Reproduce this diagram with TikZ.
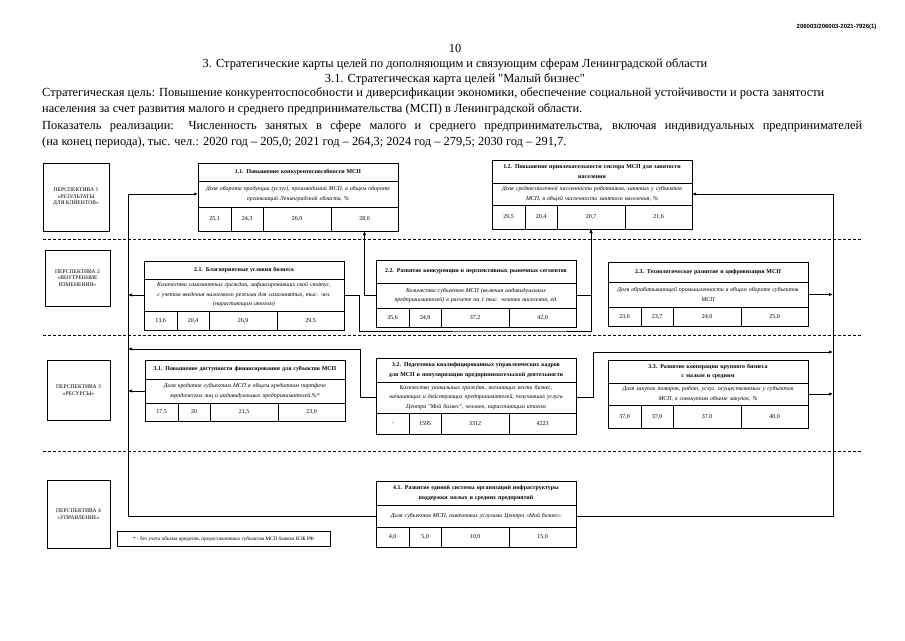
\documentclass[tikz,border=0pt]{standalone}
\usepackage{fontspec}
\setmainfont{Liberation Serif}[Ligatures=TeXOff]
\setsansfont{Liberation Sans}
\usetikzlibrary{arrows.meta, positioning, calc}

\tikzset{
  hdr/.style={font=\fontsize{12.4}{14}\selectfont, inner sep=0pt},
  persp/.style={draw, line width=0.8pt, align=center, inner sep=1pt, font=\fontsize{5.6}{6.6}\selectfont},
  titlebox/.style={draw, line width=0.8pt, outer sep=0pt, anchor=north west, minimum width=200pt,
    text width=196pt, align=center, inner sep=0pt, font=\fontsize{5.9}{9.5}\selectfont\bfseries},
  descbox/.style={titlebox, font=\fontsize{5.9}{9.5}\selectfont\itshape},
  valbox/.style={draw, line width=0.8pt, outer sep=0pt, anchor=north west, inner sep=0pt,
    font=\fontsize{6}{7}\selectfont},
  sep/.style={line width=0.8pt, dash pattern=on 3pt off 2pt},
  link/.style={line width=0.7pt, -{Latex[length=4pt, width=3.2pt]}},
}

% one row of four target values under a goal
\newcommand{\valrow}[6]{%
  \node[valbox, minimum width=33pt, minimum height=#2pt] (#1v1) at (#1d.south west) {#3};
  \node[valbox, minimum width=32pt, minimum height=#2pt] (#1v2) at (#1v1.north east) {#4};
  \node[valbox, minimum width=68pt, minimum height=#2pt] (#1v3) at (#1v2.north east) {#5};
  \node[valbox, minimum width=67pt, minimum height=#2pt] (#1v4) at (#1v3.north east) {#6};
}
% goal: name, x, y, heights of title/description/values, title, description, values
\newcommand{\goalbox}[9]{%
  \node[titlebox, minimum height=#4pt] (#1t) at (#2,#3) {#7};
  \node[descbox, minimum height=#5pt] (#1d) at (#1t.south west) {#8};
  \valrow{#1}{#6}#9
}

\begin{document}
\begin{tikzpicture}[x=1pt, y=-1pt]
  \useasboundingbox (0,0) rectangle (905,640);

  \node[font=\sffamily\bfseries\fontsize{6}{7}\selectfont, anchor=east] (docid) at (880,27) {206003/206003-2021-7926(1)};
  \node[hdr] (pgno) at (455,48) {10};
  \node[hdr] (ttl1) at (455,64) {3. Стратегические карты целей по дополняющим и связующим сферам Ленинградской области};
  \node[hdr] (ttl2) at (455,79) {3.1. Стратегическая карта целей "Малый бизнес"};
  \node[hdr, anchor=west] (goal1) at (42,93) {Стратегическая цель: Повышение конкурентоспособности и диверсификации экономики, обеспечение социальной устойчивости и роста занятости};
  \node[hdr, anchor=west] (goal2) at (42,109) {населения за счет развития малого и среднего предпринимательства (МСП) в Ленинградской области.};
  \node[hdr, anchor=west] (ind1) at (42,127) {\makebox[820pt][s]{Показатель реализации: Численность занятых в сфере малого и среднего предпринимательства, включая индивидуальных предпринимателей}};
  \node[hdr, anchor=west] (ind2) at (42,143) {(на конец периода), тыс. чел.: 2020 год – 205,0; 2021 год – 264,3; 2024 год – 279,5; 2030 год – 291,7.};

  \foreach \y in {239,335,451}
    \draw[sep] (43,\y) -- (862,\y);

  \node[persp, minimum width=66pt, minimum height=68pt] (p1) at (76,197) {ПЕРСПЕКТИВА 1\\«РЕЗУЛЬТАТЫ\\ДЛЯ КЛИЕНТОВ»};
  \node[persp, minimum width=65pt, minimum height=56pt] (p2) at (77.5,278) {ПЕРСПЕКТИВА 2\\«ВНУТРЕННИЕ\\ИЗМЕНЕНИЯ»};
  \node[persp, minimum width=63pt, minimum height=60pt] (p3) at (78.5,390) {ПЕРСПЕКТИВА 3\\«РЕСУРСЫ»};
  \node[persp, minimum width=63pt, minimum height=68pt] (p4) at (78.5,514) {ПЕРСПЕКТИВА 4\\«УПРАВЛЕНИЕ»};

  \goalbox{g11}{198}{163}{18}{26}{24}{1.1. Повышение конкурентоспособности МСП}
    {Доля оборота продукции (услуг), производимой МСП, в общем обороте\\организаций Ленинградской области, \%}
    {{25,1}{24,3}{26,9}{28,0}}
  \goalbox{g12}{492}{160}{23}{22}{24}{1.2. Повышение привлекательности сектора МСП для занятости\\населения}
    {Доля среднесписочной численности работников, занятых у субъектов\\МСП, в общей численности занятого населения, \%}
    {{29,5}{20,4}{20,7}{21,6}}
  \goalbox{g21}{144}{261}{18}{32}{19}{2.1. Благоприятные условия бизнеса}
    {Количество самозанятых граждан, зафиксировавших свой статус,\\с учетом введения налогового режима для самозанятых, тыс. чел.\\(нарастающим итогом)}
    {{13,6}{20,4}{26,9}{29,5}}
  \goalbox{g22}{376}{260}{23}{25}{19}{2.2. Развитие конкуренции и перспективных рыночных сегментов}
    {Количество субъектов МСП (включая индивидуальных\\предпринимателей) в расчете на 1 тыс. человек населения, ед.}
    {{35,6}{34,9}{37,2}{42,0}}
  \goalbox{g23}{608}{262}{20}{25}{19}{2.3. Технологическое развитие и цифровизация МСП}
    {Доля обрабатывающей промышленности в общем обороте субъектов\\МСП}
    {{23,6}{23,7}{24,0}{25,0}}
  \goalbox{g31}{145}{360}{19}{24}{18}{3.1. Повышение доступности финансирования для субъектов МСП}
    {Доля кредитов субъектам МСП в общем кредитном портфеле\\юридических лиц и индивидуальных предпринимателей,\%*}
    {{17,5}{20}{21,5}{23,0}}
  \goalbox{g32}{376}{358}{24}{31}{21}{3.2. Подготовка квалифицированных управленческих кадров\\для МСП и популяризация предпринимательской деятельности}
    {Количество уникальных граждан, желающих вести бизнес,\\начинающих и действующих предпринимателей, получивших услуги\\Центра "Мой бизнес", человек, нарастающим итогом}
    {{-}{1595}{3312}{4223}}
  \goalbox{g33}{608}{360}{23}{22}{23}{3.3. Развитие кооперации крупного бизнеса\\с малым и средним}
    {Доля закупок товаров, работ, услуг, осуществляемых у субъектов\\МСП, в совокупном объеме закупок, \%}
    {{37,0}{37,0}{37,0}{40,0}}
  \goalbox{g41}{376}{481}{24}{22}{20}{4.1. Развитие единой системы организаций инфраструктуры\\поддержки малых и средних предприятий}
    {Доля субъектов МСП, охваченных услугами Центра «Мой бизнес»}
    {{4,0}{5,0}{10,0}{15,0}}

  \node[draw, line width=0.6pt, minimum width=213pt, minimum height=15pt, inner sep=1pt,
    font=\fontsize{5.2}{6}\selectfont] (fnote) at (223.5,539) {* - без учета объема кредитов, предоставленных субъектам МСП банком ВЭБ.РФ};

  \coordinate (lbus) at (128,196);
  \coordinate (rbus) at (833,193);

  \draw[link] (g41d.west) -- (g41d.west -| lbus) |- (g11d.west);
  \draw[link] (g21d.west) -- (g21d.west -| lbus);
  \draw[link] (g31d.west) -- (g31d.west -| lbus);
  \draw[link] (g32d.west) -- ++(-16,0) |- ([yshift=11pt]g31t.north -| lbus);
  \draw[link] (g22d.west) -| (g11v4.south);
  \draw[link] (g22d.east) -| (g12v3.south);
  \draw[link] (g21d.east) -- ++(15,0) |- ([yshift=-4pt]g22v4.south) -| (g12v3.south);
  \draw[link] (g23d.east) -- (g23d.east -| rbus);
  \draw[link] (g32d.east) -- ++(17,0) |- ([yshift=8pt]g33t.north -| rbus);
  \draw[link] (g33d.east) -- (g33d.east -| rbus);
  \draw[link] (g41d.east) -- (g41d.east -| rbus) |- (g12d.east);
\end{tikzpicture}
\end{document}
